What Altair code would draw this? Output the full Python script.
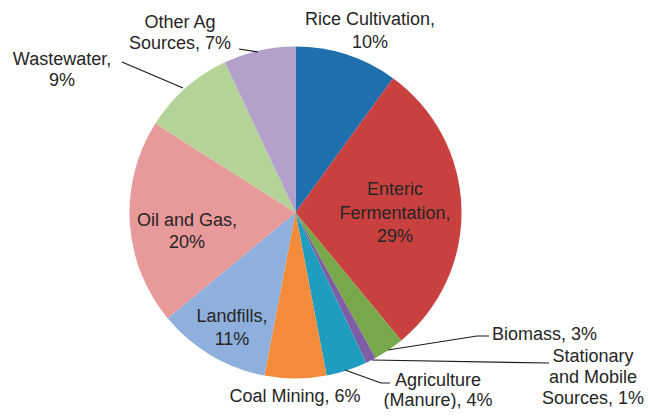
import altair as alt
import pandas as pd

# ---- data ----
categories = ["Rice Cultivation", "Enteric Fermentation", "Biomass",
              "Stationary and Mobile Sources", "Agriculture (Manure)",
              "Coal Mining", "Landfills", "Oil and Gas", "Wastewater",
              "Other Ag Sources"]
shares = [10, 29, 3, 1, 4, 6, 11, 20, 9, 7]
colors = ["#1f6fac", "#c8413e", "#78a84a", "#7d5da3", "#1e9dbf",
          "#f38b3a", "#8fb0dc", "#e8999a", "#b5d397", "#b3a1cc"]

# label text lines
label_lines = [
    ["Rice Cultivation,", "10%"],
    ["Enteric", "Fermentation,", "29%"],
    ["Biomass, 3%"],
    ["Stationary", "and Mobile", "Sources, 1%"],
    ["Agriculture", "(Manure), 4%"],
    ["Coal Mining, 6%"],
    ["Landfills,", "11%"],
    ["Oil and Gas,", "20%"],
    ["Wastewater,", "9%"],
    ["Other Ag", "Sources, 7%"],
]

# ---- layout (annotation placement, chart pixel coords) ----
CX, CY, R = 287.5, 204.5, 166
label_anchor = [  # (x, y of first line, line height, align)
    (362, 12, 23, "center"),
    (387, 182, 23.5, "center"),
    (484, 327, 0, "left"),
    (585, 349, 21, "center"),
    (430, 373, 20, "center"),
    (287, 389, 0, "center"),
    (224, 309, 23, "center"),
    (179, 213, 22, "center"),
    (54, 52, 21, "center"),
    (172, 15, 21, "center"),
]
leaders = {  # polyline points per category
    "Biomass": [(380, 342), (469, 328), (481, 328)],
    "Stationary and Mobile Sources": [(364, 352), (541, 355)],
    "Agriculture (Manure)": [(337, 362), (373, 375), (382, 375)],
    "Wastewater": [(114, 54), (175, 80)],
    "Other Ag Sources": [(231, 41), (250, 44)],
}

pie_df = pd.DataFrame({"category": categories, "share": shares,
                       "idx": list(range(len(categories)))})

rows = []
for cat, lines, (x, y, lh, al) in zip(categories, label_lines, label_anchor):
    for i, t in enumerate(lines):
        rows.append({"category": cat, "text": t, "x": x, "y": y + i * lh,
                     "align": al})
text_df = pd.DataFrame(rows)

lrows = []
for cat, pts in leaders.items():
    for j, (x, y) in enumerate(pts):
        lrows.append({"category": cat, "x": x, "y": y, "o": j})
lead_df = pd.DataFrame(lrows)

pie = alt.Chart(pie_df).mark_arc(outerRadius=R, stroke=None).encode(
    theta=alt.Theta("share:Q", stack=True),
    order=alt.Order("idx:Q"),
    color=alt.Color("category:N", scale=alt.Scale(domain=categories, range=colors),
                    legend=None, sort=categories),
    x=alt.value(CX), y=alt.value(CY),
)

lines_layer = alt.Chart(lead_df).mark_line(color="#1a1a1a", strokeWidth=1.2).encode(
    x=alt.X("x:Q", scale=None, axis=None),
    y=alt.Y("y:Q", scale=None, axis=None),
    detail="category:N",
    order="o:Q",
)

def text_layer(al):
    return alt.Chart(text_df[text_df["align"] == al]).mark_text(
        font="Liberation Sans", fontSize=18, color="#262626",
        align=al, baseline="middle").encode(
        x=alt.X("x:Q", scale=None, axis=None),
        y=alt.Y("y:Q", scale=None, axis=None),
        text="text:N",
    )

chart = alt.layer(pie, lines_layer, text_layer("center"), text_layer("left")).properties(
    width=638, height=401, padding=0, autosize=alt.AutoSizeParams(type="none"),
    background="white",
).configure_view(stroke=None)

chart.save("out.html", embed_options={"renderer": "svg", "actions": False})
